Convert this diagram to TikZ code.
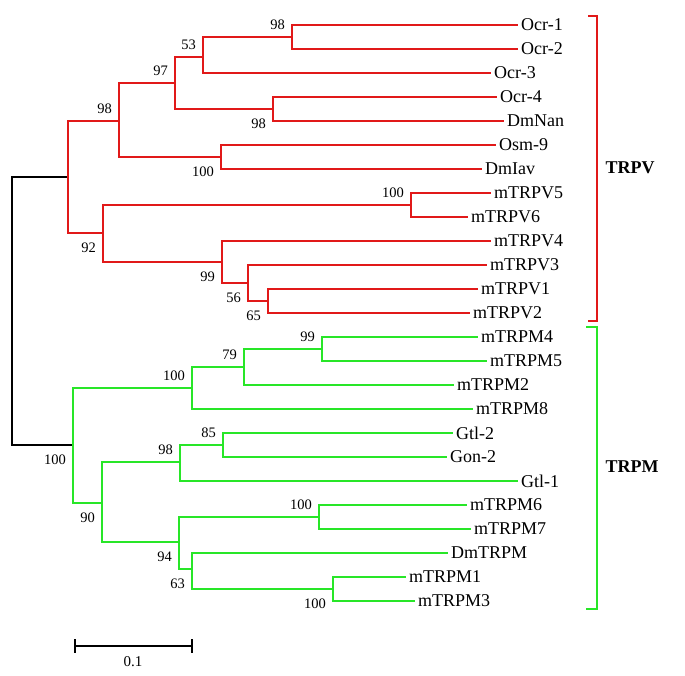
\documentclass[tikz,border=0pt]{standalone}
\usepackage{fontspec}
\setmainfont{Liberation Serif}
\usepackage{tikz}
\usetikzlibrary{positioning,calc}
\definecolor{treered}{RGB}{225,25,25}
\definecolor{treegreen}{RGB}{40,230,40}

\begin{document}
\begin{tikzpicture}[
    x=1pt, y=-1pt,
    leaf/.style={anchor=west, inner sep=3pt, font=\fontsize{18}{18}\selectfont},
    bsup/.style={anchor=south east, inner sep=0pt, xshift=-7pt, yshift=7pt, font=\fontsize{14.5}{14.5}\selectfont},
    bsdn/.style={anchor=north east, inner sep=0pt, xshift=-7pt, yshift=-10pt, font=\fontsize{14.5}{14.5}\selectfont},
    vbr/.style={draw=treered, line width=2.8pt},
    mbr/.style={draw=treegreen, line width=2.8pt},
    rbr/.style={draw=black, line width=2.8pt},
    clade/.style={font=\fontsize{18}{18}\selectfont\bfseries}
]
\useasboundingbox (0,0) rectangle (685,675);

% leaves
\node[leaf] (o1) at (518,25) {Ocr-1};
\node[leaf] (o2) at (518,49) {Ocr-2};
\node[leaf] (o3) at (491,73) {Ocr-3};
\node[leaf] (o4) at (497,97) {Ocr-4};
\node[leaf] (nan) at (504,121) {DmNan};
\node[leaf] (osm) at (496,145) {Osm-9};
\node[leaf] (iav) at (482,169) {DmIav};
\node[leaf] (v5) at (491,193) {mTRPV5};
\node[leaf] (v6) at (468,217) {mTRPV6};
\node[leaf] (v4) at (491,241) {mTRPV4};
\node[leaf] (v3) at (487,265) {mTRPV3};
\node[leaf] (v1) at (478,289) {mTRPV1};
\node[leaf] (v2) at (470,313) {mTRPV2};
\node[leaf] (m4) at (478,337) {mTRPM4};
\node[leaf] (m5) at (487,361) {mTRPM5};
\node[leaf] (m2) at (454,385) {mTRPM2};
\node[leaf] (m8) at (473,409) {mTRPM8};
\node[leaf] (g2) at (453,433) {Gtl-2};
\node[leaf] (gon) at (447,457) {Gon-2};
\node[leaf] (g1) at (518,481) {Gtl-1};
\node[leaf] (m6) at (467,505) {mTRPM6};
\node[leaf] (m7) at (471,529) {mTRPM7};
\node[leaf] (dm) at (448,553) {DmTRPM};
\node[leaf] (m1) at (406,577) {mTRPM1};
\node[leaf] (m3) at (415,601) {mTRPM3};

% inner nodes
\coordinate (root) at (12,311);
\coordinate (V) at (68,177);
\coordinate (Va) at (119,121);
\coordinate (Vb) at (175,83);
\coordinate (Vc) at (203,57);
\coordinate (Vd) at (292,37);
\coordinate (Ve) at (273,109);
\coordinate (Vf) at (221,157);
\coordinate (Vg) at (103,233);
\coordinate (Vh) at (411,205);
\coordinate (Vi) at (222,262);
\coordinate (Vj) at (248,283);
\coordinate (Vk) at (268,301);
\coordinate (M) at (73,445);
\coordinate (Ma) at (192,388);
\coordinate (Mb) at (244,367);
\coordinate (Mc) at (322,349);
\coordinate (Md) at (102,503);
\coordinate (Me) at (180,462);
\coordinate (Mf) at (223,445);
\coordinate (Mg) at (179,542);
\coordinate (Mh) at (319,517);
\coordinate (Mi) at (192,569);
\coordinate (Mj) at (333,589);

\draw[rbr] (root) |- (V);
\draw[rbr] (root) |- (M);

\draw[vbr] (V) |- (Va);
\draw[vbr] (V) |- (Vg);
\draw[vbr] (Va) |- (Vb);
\draw[vbr] (Va) |- (Vf);
\draw[vbr] (Vb) |- (Vc);
\draw[vbr] (Vb) |- (Ve);
\draw[vbr] (Vc) |- (Vd);
\draw[vbr] (Vc) |- (o3);
\draw[vbr] (Vd) |- (o1);
\draw[vbr] (Vd) |- (o2);
\draw[vbr] (Ve) |- (o4);
\draw[vbr] (Ve) |- (nan);
\draw[vbr] (Vf) |- (osm);
\draw[vbr] (Vf) |- (iav);
\draw[vbr] (Vg) |- (Vh);
\draw[vbr] (Vg) |- (Vi);
\draw[vbr] (Vh) |- (v5);
\draw[vbr] (Vh) |- (v6);
\draw[vbr] (Vi) |- (v4);
\draw[vbr] (Vi) |- (Vj);
\draw[vbr] (Vj) |- (v3);
\draw[vbr] (Vj) |- (Vk);
\draw[vbr] (Vk) |- (v1);
\draw[vbr] (Vk) |- (v2);

\draw[mbr] (M) |- (Ma);
\draw[mbr] (M) |- (Md);
\draw[mbr] (Ma) |- (Mb);
\draw[mbr] (Ma) |- (m8);
\draw[mbr] (Mb) |- (Mc);
\draw[mbr] (Mb) |- (m2);
\draw[mbr] (Mc) |- (m4);
\draw[mbr] (Mc) |- (m5);
\draw[mbr] (Md) |- (Me);
\draw[mbr] (Md) |- (Mg);
\draw[mbr] (Me) |- (Mf);
\draw[mbr] (Me) |- (g1);
\draw[mbr] (Mf) |- (g2);
\draw[mbr] (Mf) |- (gon);
\draw[mbr] (Mg) |- (Mh);
\draw[mbr] (Mg) |- (Mi);
\draw[mbr] (Mh) |- (m6);
\draw[mbr] (Mh) |- (m7);
\draw[mbr] (Mi) |- (dm);
\draw[mbr] (Mi) |- (Mj);
\draw[mbr] (Mj) |- (m1);
\draw[mbr] (Mj) |- (m3);

% bootstrap values
\node[bsup] (bVa) at (Va) {98};
\node[bsup] (bVb) at (Vb) {97};
\node[bsup] (bVc) at (Vc) {53};
\node[bsup] (bVd) at (Vd) {98};
\node[bsdn] (bVe) at (Ve) {98};
\node[bsdn] (bVf) at (Vf) {100};
\node[bsdn] (bVg) at (Vg) {92};
\node[bsup] (bVh) at (Vh) {100};
\node[bsdn] (bVi) at (Vi) {99};
\node[bsdn] (bVj) at (Vj) {56};
\node[bsdn] (bVk) at (Vk) {65};
\node[bsdn] (bM) at (M) {100};
\node[bsup] (bMa) at (Ma) {100};
\node[bsup] (bMb) at (Mb) {79};
\node[bsup] (bMc) at (Mc) {99};
\node[bsdn] (bMd) at (Md) {90};
\node[bsup] (bMe) at (Me) {98};
\node[bsup] (bMf) at (Mf) {85};
\node[bsdn] (bMg) at (Mg) {94};
\node[bsup] (bMh) at (Mh) {100};
\node[bsdn] (bMi) at (Mi) {63};
\node[bsdn] (bMj) at (Mj) {100};

% clade brackets
\coordinate (vtop) at (588,16);
\coordinate (vbot) at (588,321);
\draw[vbr, line width=2.5pt] (vtop) -- ++(9,0) |- (vbot);
\node[clade] (trpv) at (630,168) {TRPV};
\coordinate (mtop) at (586,327);
\coordinate (mbot) at (586,609);
\draw[mbr, line width=2.5pt] (mtop) -- ++(11,0) |- (mbot);
\node[clade] (trpm) at (632,467) {TRPM};

% scale bar
\coordinate (s0) at (75,646);
\coordinate (s1) at (192,646);
\draw[rbr] (s0) -- (s1);
\draw[rbr] ($(s0)+(0,-7)$) -- ($(s0)+(0,7)$);
\draw[rbr] ($(s1)+(0,-7)$) -- ($(s1)+(0,7)$);
\node[font=\fontsize{15}{15}\selectfont] (sl) at (133,662) {0.1};
\end{tikzpicture}
\end{document}
